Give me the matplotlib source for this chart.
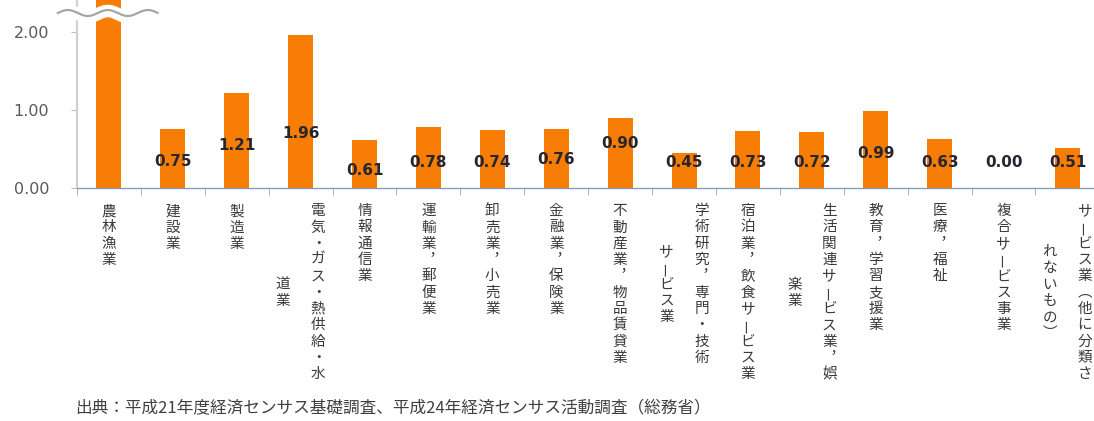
import matplotlib

matplotlib.use("Agg")
import matplotlib.pyplot as plt
import matplotlib.transforms as mtransforms
import numpy as np

# Industry categories; "\n" marks where a vertical label wraps to a second column.
CATEGORIES = [
    "農林漁業",
    "建設業",
    "製造業",
    "電気・ガス・熱供給・水\n道業",
    "情報通信業",
    "運輸業，郵便業",
    "卸売業，小売業",
    "金融業，保険業",
    "不動産業，物品賃貸業",
    "学術研究，専門・技術\nサービス業",
    "宿泊業，飲食サービス業",
    "生活関連サービス業，娯\n楽業",
    "教育，学習支援業",
    "医療，福祉",
    "複合サービス事業",
    "サービス業（他に分類さ\nれないもの）",
]
# Specialisation coefficient per industry (first bar runs off the top of the axis).
VALUES = [3.60, 0.75, 1.21, 1.96, 0.61, 0.78, 0.74, 0.76, 0.90,
          0.45, 0.73, 0.72, 0.99, 0.63, 0.00, 0.51]
SHOW_LABEL = [False] + [True] * 15
Y_TICKS = [0.0, 1.0, 2.0]
SOURCE = "出典：平成21年度経済センサス基礎調査、平成24年経済センサス活動調査（総務省）"

# Layout: heights (data units) at which each value label is placed.
LABEL_Y = [0.0, 0.34, 0.54, 0.70, 0.23, 0.33, 0.32, 0.37, 0.57,
           0.32, 0.32, 0.32, 0.44, 0.32, 0.32, 0.32]

ORANGE = "#f87d05"
W, H = 1094, 421
PX_PER_UNIT = 78.2      # vertical pixels per 1.00
PX_PER_CAT = 63.9       # horizontal pixels per category
ZERO_PX = 188           # y pixel (from top) of the zero line
LEFT_PX = 77

CJK = ["Noto Sans CJK JP", "DejaVu Sans"]
plt.rcParams["font.family"] = ["DejaVu Sans"]

fig = plt.figure(figsize=(W / 100, H / 100), dpi=100)
ax = fig.add_axes([LEFT_PX / W, 1 - ZERO_PX / H,
                   PX_PER_CAT * len(CATEGORIES) / W, ZERO_PX / H])

x = np.arange(len(CATEGORIES))
ax.bar(x, VALUES, width=0.39, color=ORANGE, zorder=2)

ax.set_xlim(-0.5, len(CATEGORIES) - 0.5)
ax.set_ylim(0, ZERO_PX / PX_PER_UNIT)

for side in ("top", "right"):
    ax.spines[side].set_visible(False)
ax.spines["left"].set_color("#d0d0d0")
ax.spines["left"].set_linewidth(1.6)
ax.spines["bottom"].set_color("#8a9bb5")
ax.spines["bottom"].set_linewidth(1.0)

ax.set_yticks(Y_TICKS, labels=[f"{v:.2f}" for v in Y_TICKS])
ax.tick_params(axis="y", length=4, color="#bfbfbf", labelcolor="#595959",
               labelsize=11.5, pad=16)
ax.set_xticks([])
ax.set_xticks(np.arange(-0.5, len(CATEGORIES)), minor=True)
ax.tick_params(axis="x", which="minor", length=5, color="#a6a6a6", direction="out")

# value labels
for i, (v, show) in enumerate(zip(VALUES, SHOW_LABEL)):
    if show:
        ax.text(i, LABEL_Y[i], f"{v:.2f}", ha="center", va="center",
                fontsize=11, fontweight="bold", color="#262630", zorder=4)

# axis-break marker across the first bar
wx = np.linspace(-0.8, 0.76, 200)
amp = 3 / PX_PER_UNIT
period = 40 / PX_PER_CAT
wave = np.sin(2 * np.pi * (wx - wx[0]) / period)
ax.plot(wx, (ZERO_PX - 14) / PX_PER_UNIT + amp * wave, color="white",
        lw=9, solid_capstyle="butt", zorder=3, clip_on=False)
ax.plot(wx, (ZERO_PX - 13) / PX_PER_UNIT + amp * wave, color="#a6a6a6",
        lw=1.6, zorder=3, clip_on=False)

# vertical (tategaki) category labels, drawn one glyph at a time;
# punctuation is swapped for its vertical presentation form
blend = mtransforms.blended_transform_factory(ax.transData, fig.transFigure)
TOP_PX = 203
PITCH = 16.3
COL_GAP = 35 / PX_PER_CAT
VERTICAL_FORMS = {"，": "︐", "（": "︵", "）": "︶"}
ROTATED = {"ー": 90}
for i, label in enumerate(CATEGORIES):
    cols = label.split("\n")
    longest = max(len(c) for c in cols)
    for j, col in enumerate(cols):
        cx = i + (len(cols) - 1) / 2 * COL_GAP - j * COL_GAP
        start = TOP_PX + (longest - len(col)) / 2 * PITCH
        for k, ch in enumerate(col):
            cy = start + (k + 0.5) * PITCH
            ax.text(cx, 1 - cy / H, VERTICAL_FORMS.get(ch, ch), transform=blend,
                    ha="center", va="center", fontsize=10.5, color="#3a3a3a",
                    family=CJK, rotation=ROTATED.get(ch, 0), clip_on=False)

fig.text(75 / W, 1 - 409 / H, SOURCE, ha="left", va="center",
         fontsize=12, color="#404040", family=CJK)

fig.savefig("out.png", dpi=100)
